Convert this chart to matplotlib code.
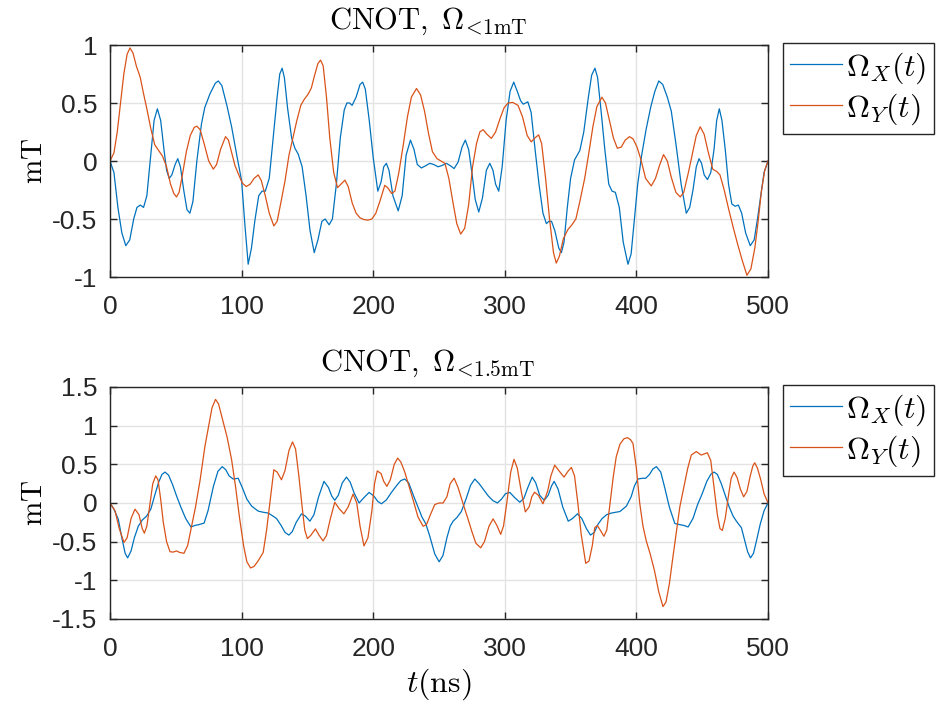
import matplotlib
matplotlib.use("Agg")
import matplotlib.pyplot as plt
import numpy as np

plt.rcParams['mathtext.fontset'] = 'cm'
plt.rcParams['font.family'] = ['Liberation Sans', 'DejaVu Sans']

# ---- top panel: CNOT, |Omega| < 1 mT ----
top_x_t = [0, 3, 6, 9, 12, 15, 18, 20.5, 23, 25.5, 28, 31, 33.5, 36, 38.5, 41, 43, 45, 47, 49.5,
           51.5, 53.5, 56, 58.5, 60.7, 63, 66, 69.5, 72, 76, 80, 82.3, 85, 89, 92.5, 96, 100, 102.5,
           105, 107.5, 110, 113, 115.5, 118, 121, 124, 127, 129, 130.8, 132.5, 135, 138, 140.5, 143,
           146, 149, 152, 155.2, 158, 161, 163.5, 166.5, 169, 172, 175, 178, 180, 182, 184, 187, 190,
           192, 194, 197, 200, 203.5, 206, 208, 210, 212, 215, 219, 222, 225, 228.3, 231, 233.5,
           236.6, 240, 243, 246, 249.3, 252, 255.6, 258.5, 261.5, 264.5, 267.5, 270, 272.5, 275,
           277.5, 280.2, 283, 286, 288.6, 291, 293, 295.4, 298, 301, 304, 306.8, 309.5, 312, 314,
           317.5, 320, 323, 326, 329, 331.6, 333.5, 335.5, 338, 341, 343, 345, 347.5, 350, 353, 357,
           360, 363.5, 366, 368.5, 370.5, 373, 376, 379, 381.5, 384, 387, 390, 393.6, 396, 398.5,
           401, 404, 407.5, 411, 414, 417, 420, 423.5, 426.5, 430, 434, 437.9, 440.5, 443, 445.5,
           447.6, 449.5, 451.5, 454, 456.5, 459, 461, 463, 465, 467.5, 470, 472.5, 475, 477.5, 480,
           483, 486.5, 489.5, 492, 494.5, 497, 500]
top_x_v = [0, -0.1, -0.4, -0.62, -0.73, -0.68, -0.5, -0.4, -0.38, -0.4, -0.3, 0.05, 0.35, 0.45,
           0.35, 0.1, -0.08, -0.15, -0.12, -0.03, 0.02, -0.05, -0.25, -0.42, -0.45, -0.35, 0.0, 0.32,
           0.46, 0.58, 0.67, 0.69, 0.65, 0.47, 0.29, 0.07, -0.17, -0.55, -0.89, -0.75, -0.52, -0.3,
           -0.26, -0.26, -0.15, 0.2, 0.55, 0.75, 0.8, 0.72, 0.45, 0.2, 0.11, 0.06, -0.05, -0.3, -0.6,
           -0.79, -0.68, -0.52, -0.5, -0.55, -0.5, -0.2, 0.2, 0.44, 0.5, 0.5, 0.48, 0.55, 0.66, 0.68,
           0.62, 0.35, 0.03, -0.26, -0.18, -0.05, -0.02, -0.08, -0.3, -0.43, -0.3, 0.05, 0.18, 0.1,
           -0.03, -0.06, -0.04, -0.02, -0.03, -0.05, -0.04, -0.02, -0.04, -0.065, -0.01, 0.12, 0.18,
           0.1, -0.1, -0.33, -0.44, -0.32, -0.08, -0.02, -0.08, -0.2, -0.26, -0.05, 0.35, 0.6, 0.68,
           0.6, 0.52, 0.49, 0.51, 0.42, 0.1, -0.2, -0.45, -0.54, -0.52, -0.52, -0.6, -0.75, -0.79,
           -0.7, -0.4, -0.15, 0.01, 0.09, 0.25, 0.55, 0.74, 0.8, 0.72, 0.45, 0.1, -0.2, -0.26,
           -0.27, -0.4, -0.7, -0.89, -0.8, -0.5, -0.2, 0.05, 0.28, 0.47, 0.6, 0.69, 0.66, 0.55, 0.43,
           0.15, -0.2, -0.45, -0.4, -0.25, -0.05, 0.02, -0.02, -0.12, -0.16, -0.1, 0.1, 0.35, 0.45,
           0.35, 0.1, -0.2, -0.37, -0.39, -0.38, -0.45, -0.62, -0.73, -0.68, -0.5, -0.3, -0.1, 0]

top_y_t = [0, 3, 5.5, 8, 10.5, 13, 15.2, 17.5, 20, 23, 25.5, 28, 31, 34, 37, 40, 43, 46, 48.5, 50.5,
           52.5, 55, 58, 61, 64, 66, 68.5, 71.5, 75, 78.5, 81, 84, 87.8, 90, 92.5, 95, 97.5, 100.5,
           103.5, 106.5, 109.5, 112.6, 115, 118, 121, 124.5, 127, 130, 133, 136, 139, 142, 145,
           147.5, 150.5, 153, 155.5, 158, 160, 162, 164.5, 167, 170, 172.9, 175.5, 178.5, 181, 184,
           187, 190, 193, 196, 199, 202, 205, 208.8, 211, 214, 216.5, 219.5, 223, 226, 229, 232.9,
           236, 239, 242, 245, 248.5, 251.5, 254.5, 257.5, 260.5, 263.5, 266.5, 269.5, 272.5, 275.5,
           278.5, 281, 283.5, 286.5, 289.8, 293, 296.5, 299.5, 302.5, 306, 310, 313.5, 317, 320.1,
           323, 325.7, 328, 331, 334, 337, 339.1, 341.5, 344.5, 348, 351, 354, 357, 360.7, 364, 367,
           370, 373.8, 376.5, 379.5, 382.5, 385.5, 388.5, 391.5, 394.8, 397.5, 400.5, 403.5, 407,
           411.3, 414.5, 417.5, 420.6, 423.5, 426.5, 430, 433.3, 436, 439.5, 442.5, 445.5, 448.5,
           451.5, 454.5, 458, 461, 463.5, 466.5, 470, 473.5, 477, 480.5, 484, 487, 490, 492.5, 495,
           497.5, 500]
top_y_v = [0, 0.07, 0.25, 0.5, 0.75, 0.92, 0.975, 0.93, 0.82, 0.72, 0.58, 0.45, 0.28, 0.14, 0.09,
           0.04, -0.05, -0.2, -0.28, -0.31, -0.27, -0.12, 0.08, 0.22, 0.29, 0.3, 0.27, 0.15, 0.0,
           -0.07, -0.03, 0.1, 0.21, 0.18, 0.07, -0.04, -0.11, -0.19, -0.22, -0.2, -0.15, -0.12,
           -0.17, -0.3, -0.45, -0.56, -0.52, -0.35, -0.17, 0.05, 0.2, 0.35, 0.48, 0.53, 0.575, 0.63,
           0.74, 0.84, 0.87, 0.82, 0.55, 0.2, -0.1, -0.23, -0.2, -0.165, -0.22, -0.36, -0.45, -0.49,
           -0.505, -0.51, -0.5, -0.45, -0.35, -0.21, -0.23, -0.28, -0.26, -0.1, 0.15, 0.38, 0.55,
           0.625, 0.57, 0.43, 0.24, 0.08, 0.02, 0.0, -0.02, -0.15, -0.35, -0.54, -0.63, -0.58, -0.38,
           -0.05, 0.15, 0.25, 0.27, 0.23, 0.195, 0.25, 0.37, 0.46, 0.5, 0.505, 0.48, 0.38, 0.22,
           0.165, 0.2, 0.225, 0.15, -0.15, -0.5, -0.79, -0.88, -0.82, -0.67, -0.59, -0.55, -0.5,
           -0.35, -0.15, 0.08, 0.3, 0.47, 0.55, 0.5, 0.35, 0.2, 0.11, 0.12, 0.18, 0.21, 0.19, 0.12,
           0.01, -0.15, -0.215, -0.15, -0.04, 0.055, 0.0, -0.14, -0.27, -0.31, -0.27, -0.1, 0.06,
           0.22, 0.295, 0.23, 0.08, -0.07, -0.09, -0.12, -0.24, -0.41, -0.57, -0.72, -0.86, -0.985,
           -0.93, -0.75, -0.52, -0.26, -0.08, 0]

# ---- bottom panel: CNOT, |Omega| < 1.5 mT ----
bot_x_t = [0, 3, 6.3, 9, 11.5, 13.4, 16, 18.5, 21.5, 24.5, 27.8, 31, 34, 37, 39.5, 41.8, 44.5, 47.5,
           50.6, 54, 57.5, 61.5, 64.5, 67.5, 71.5, 74.5, 78.5, 82, 85.3, 88, 90.5, 93.6, 97.4, 100.5,
           104, 107.6, 112.6, 116.5, 120.2, 123, 126.5, 130, 133, 135.9, 138.5, 141.5, 145.5, 148.5,
           151.9, 155, 158.5, 162.6, 166, 168.5, 170.8, 173.5, 176.5, 179.7, 182.5, 185.5, 189.3,
           193, 196.9, 200.5, 203.5, 206.3, 210, 214, 218, 221, 224, 227, 230.5, 234, 237, 240, 243,
           246.8, 250.1, 253, 256, 258.5, 260.7, 263.5, 267, 270.5, 274, 277.2, 280.5, 284, 287.5,
           291, 294.4, 297.5, 300.5, 303.8, 307.5, 311.4, 314.5, 317.5, 320.8, 323.5, 326.5, 329.9,
           333, 335.5, 337.5, 340.5, 344, 348.2, 351.5, 355.2, 358.5, 362, 365.1, 368, 371, 374,
           377.5, 381, 384.5, 387.5, 392.4, 396, 398.5, 401.2, 404.5, 407.1, 410, 412.5, 415.2,
           418.5, 421.5, 425, 429.2, 433, 436, 439.3, 443, 446.5, 450, 453.5, 456.5, 459, 461.5,
           464.5, 467.5, 470.5, 473.5, 476, 479.8, 482.5, 484.5, 486.7, 489, 491.5, 494, 497, 500]
bot_x_v = [0, -0.08, -0.21, -0.45, -0.65, -0.71, -0.62, -0.45, -0.3, -0.22, -0.17, -0.08, 0.1, 0.27,
           0.37, 0.4, 0.36, 0.24, 0.09, -0.06, -0.2, -0.31, -0.29, -0.28, -0.26, -0.1, 0.21, 0.41,
           0.47, 0.43, 0.35, 0.31, 0.32, 0.2, 0.05, -0.04, -0.105, -0.12, -0.13, -0.16, -0.2, -0.29,
           -0.38, -0.415, -0.37, -0.25, -0.14, -0.17, -0.235, -0.15, 0.08, 0.28, 0.2, 0.09, 0.035,
           0.1, 0.26, 0.335, 0.27, 0.13, 0.0, 0.07, 0.137, 0.09, 0.02, -0.01, 0.04, 0.14, 0.23, 0.29,
           0.31, 0.26, 0.1, -0.05, -0.18, -0.27, -0.43, -0.66, -0.76, -0.68, -0.45, -0.3, -0.235,
           -0.19, -0.11, 0.05, 0.23, 0.31, 0.25, 0.17, 0.09, 0.03, 0.0, 0.05, 0.12, 0.137, 0.07, 0.01,
           0.06, 0.2, 0.335, 0.26, 0.1, 0.035, 0.1, 0.22, 0.28, 0.18, -0.05, -0.235, -0.2, -0.14,
           -0.2, -0.33, -0.415, -0.38, -0.27, -0.2, -0.15, -0.13, -0.12, -0.11, -0.04, 0.08, 0.22,
           0.31, 0.32, 0.32, 0.37, 0.44, 0.47, 0.4, 0.2, -0.05, -0.265, -0.28, -0.29, -0.31, -0.2,
           -0.02, 0.12, 0.28, 0.37, 0.4, 0.37, 0.25, 0.1, -0.05, -0.17, -0.235, -0.32, -0.5, -0.63,
           -0.71, -0.65, -0.47, -0.28, -0.1, 0]

bot_y_t = [0, 3.8, 7, 10.6, 13, 16, 19, 22, 24.5, 26.1, 28, 30.5, 32.5, 34.7, 36.5, 38.5, 40.5, 43,
           45.6, 48, 50.6, 53, 56.2, 59, 62, 65, 68.5, 72.1, 75, 77.5, 80.2, 82.5, 85.5, 89, 92.4,
           95.5, 98.5, 101.5, 104, 106.8, 109.5, 112.5, 116.4, 119, 121.5, 124.5, 127, 130.3, 133,
           136, 138.7, 141, 143.5, 146, 148, 150, 152.5, 156.1, 159, 161.9, 164.5, 167.5, 170.8, 174,
           177.7, 181, 184.7, 187.5, 190, 193, 196, 199, 201, 203.1, 206, 208, 210.4, 213, 216,
           218.6, 221, 224, 227.5, 231, 234, 237.9, 240.5, 243.5, 246.8, 250, 253.1, 256, 258.5,
           261.5, 264.5, 268.5, 272.1, 275, 278, 281.7, 284.5, 288, 291.1, 294, 296.9, 299, 301.5,
           304.5, 307, 309.5, 312.5, 315.6, 318.5, 320.5, 322.6, 325.5, 329, 332.5, 335, 337.9, 341,
           345, 348, 350.6, 353, 355.5, 358, 361.5, 364, 366.5, 368.3, 370.3, 372.5, 375.3, 377.5,
           380, 382.5, 384.7, 387.5, 390.5, 393.1, 395.5, 397.4, 400, 402.5, 405, 407.5, 410.5,
           413.8, 417, 420.2, 422.5, 425, 427.5, 430.3, 433, 436, 439, 441.7, 445.5, 449.3, 453.9,
           456.5, 459, 461.5, 463.5, 465.3, 467.5, 470, 472, 474.2, 476.5, 479, 481.5, 484, 486.5,
           488.5, 489.9, 492, 494.5, 497, 500]
bot_y_v = [0, -0.1, -0.33, -0.51, -0.45, -0.2, -0.08, -0.15, -0.33, -0.39, -0.3, 0.0, 0.25, 0.35,
           0.3, 0.05, -0.25, -0.5, -0.63, -0.635, -0.62, -0.64, -0.65, -0.55, -0.3, -0.05, 0.3, 0.73,
           1.0, 1.23, 1.34, 1.28, 1.08, 0.85, 0.56, 0.2, -0.2, -0.55, -0.76, -0.84, -0.82, -0.75,
           -0.64, -0.35, 0.0, 0.43, 0.4, 0.3, 0.42, 0.68, 0.79, 0.7, 0.35, -0.05, -0.35, -0.46,
           -0.42, -0.335, -0.42, -0.49, -0.42, -0.2, 0.01, -0.07, -0.14, -0.05, 0.115, 0.0, -0.3,
           -0.555, -0.45, -0.1, 0.25, 0.415, 0.38, 0.28, 0.215, 0.3, 0.5, 0.58, 0.53, 0.4, 0.2, 0.0,
           -0.18, -0.3, -0.28, -0.15, -0.02, 0.0, 0.0, 0.08, 0.25, 0.32, 0.2, -0.02, -0.21, -0.37,
           -0.52, -0.58, -0.5, -0.3, -0.205, -0.29, -0.405, -0.3, 0.0, 0.4, 0.565, 0.45, 0.15,
           -0.115, -0.05, 0.08, 0.14, 0.1, -0.01, 0.15, 0.35, 0.49, 0.42, 0.335, 0.41, 0.46, 0.35,
           0.0, -0.4, -0.78, -0.75, -0.55, -0.32, -0.29, -0.35, -0.43, -0.35, 0.0, 0.35, 0.6, 0.76,
           0.83, 0.845, 0.82, 0.77, 0.45, 0.0, -0.3, -0.49, -0.66, -0.88, -1.15, -1.34, -1.28,
           -1.05, -0.73, -0.385, -0.05, 0.2, 0.45, 0.62, 0.665, 0.62, 0.65, 0.55, 0.2, -0.15, -0.33,
           -0.355, -0.2, 0.1, 0.32, 0.4, 0.33, 0.18, 0.08, 0.15, 0.35, 0.48, 0.52, 0.45, 0.3, 0.12, 0]

x_ticks = [0, 100, 200, 300, 400, 500]
top_yticks = [-1, -0.5, 0, 0.5, 1]
top_yticklabels = ['-1', '-0.5', '0', '0.5', '1']
bot_yticks = [-1.5, -1, -0.5, 0, 0.5, 1, 1.5]
bot_yticklabels = ['-1.5', '-1', '-0.5', '0', '0.5', '1', '1.5']

titles = [r'$\mathrm{CNOT},\;\Omega_{\!<\!1\mathrm{mT}}$',
          r'$\mathrm{CNOT},\;\Omega_{\!<\!1.5\mathrm{mT}}$']
series_labels = [r'$\Omega_X(t)$', r'$\Omega_Y(t)$']

BLUE = '#0072BD'
ORANGE = '#D95319'
AX_COLOR = '#262626'
GRID_COLOR = '#E3E3E3'

W, H = 939, 709
fig = plt.figure(figsize=(W / 100, H / 100), dpi=100)

def px_axes(left, top, right, bottom):
    return fig.add_axes([left / W, 1 - bottom / H, (right - left) / W, (bottom - top) / H])

ax1 = px_axes(110, 45, 768, 277)
ax2 = px_axes(110, 387, 768, 619)

panels = [
    (ax1, top_x_t, top_x_v, top_y_t, top_y_v, top_yticks, top_yticklabels, (-1, 1)),
    (ax2, bot_x_t, bot_x_v, bot_y_t, bot_y_v, bot_yticks, bot_yticklabels, (-1.5, 1.5)),
]

for i, (ax, xt, xv, yt, yv, yticks, ylabels, ylim) in enumerate(panels):
    ax.plot(xt, xv, color=BLUE, lw=0.9, label=series_labels[0])
    ax.plot(yt, yv, color=ORANGE, lw=0.9, label=series_labels[1])
    ax.set_xlim(0, 500)
    ax.set_ylim(*ylim)
    ax.set_xticks(x_ticks)
    ax.set_xticklabels([str(v) for v in x_ticks])
    ax.set_yticks(yticks)
    ax.set_yticklabels(ylabels)
    ax.grid(True, color=GRID_COLOR, lw=1.0)
    ax.set_axisbelow(True)
    for sp in ax.spines.values():
        sp.set_color(AX_COLOR)
        sp.set_linewidth(1.0)
    ax.tick_params(direction='in', length=5, width=1.0, color=AX_COLOR,
                   top=True, right=True, labelsize=19, labelcolor=AX_COLOR)
    ax.tick_params(axis='x', pad=13)
    ax.tick_params(axis='y', pad=9)
    ax.set_ylabel(r'$\mathrm{mT}$', fontsize=21, labelpad=3)
    ax.text(0.483, 1.035, titles[i], transform=ax.transAxes, ha='center', va='bottom',
            fontsize=22)
    leg = ax.legend(loc='upper left', bbox_to_anchor=(1.0228, 1.008), borderaxespad=0,
                    fontsize=23, handlelength=1.62, handletextpad=0.14, labelspacing=0.18,
                    borderpad=0.22, fancybox=False, framealpha=1, edgecolor=AX_COLOR)
    leg.get_frame().set_linewidth(1.0)

ax2.set_xlabel(r'$t(\mathrm{ns})$', fontsize=23, labelpad=4)

fig.savefig('out.png', dpi=100)
